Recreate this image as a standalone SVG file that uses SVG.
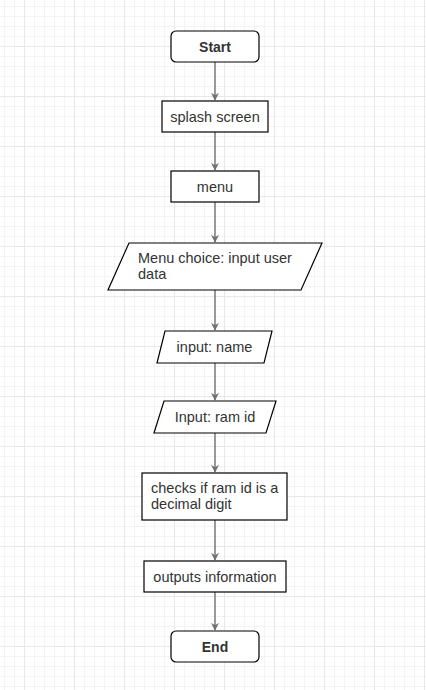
<svg xmlns="http://www.w3.org/2000/svg" width="426" height="690" viewBox="0 0 426 690">
<style>
.node{fill:#ffffff;stroke:#000000;stroke-width:1.2}
.t{font-family:"Liberation Sans",Arial,sans-serif;font-size:14.5px;fill:#333333}
.b{font-family:"Liberation Sans",Arial,sans-serif;font-size:14px;font-weight:bold;fill:#333333}
.e{stroke:#707070;stroke-width:1.4;fill:none;marker-end:url(#arr)}
</style>
<defs>
<pattern id="minor" patternUnits="userSpaceOnUse" x="4" y="6" width="10" height="10">
<path d="M0 0.5H10M0.5 0V10" stroke="#f3f3f3" stroke-width="1" fill="none"/>
</pattern>
<pattern id="major" patternUnits="userSpaceOnUse" x="24" y="46" width="50" height="50">
<path d="M0 0.5H50M0.5 0V50" stroke="#e8e8e8" stroke-width="1" fill="none"/>
</pattern>
<marker id="arr" viewBox="0 0 10 10" refX="9" refY="5" markerWidth="8" markerHeight="8" markerUnits="userSpaceOnUse" orient="auto">
<path d="M0 0L10 5L0 10L3 5Z" fill="#707070"/>
</marker>
</defs>
<rect width="426" height="690" fill="#ffffff"/>
<rect width="426" height="690" fill="url(#minor)"/>
<rect width="426" height="690" fill="url(#major)"/>
<g id="connectors">
<path class="e" d="M215 62V100"/>
<path class="e" d="M215 132V170"/>
<path class="e" d="M215 202V242"/>
<path class="e" d="M215 290V330"/>
<path class="e" d="M215 363V400"/>
<path class="e" d="M215 433V472"/>
<path class="e" d="M215 520V560"/>
<path class="e" d="M215 592V630"/>
</g>
<g id="start">
<rect class="node" x="171" y="31" width="88" height="31" rx="5"/>
<text class="b" x="215" y="51.5" text-anchor="middle">Start</text>
</g>
<g id="splash">
<rect class="node" x="162" y="101" width="106" height="31"/>
<text class="t" x="215" y="121.5" text-anchor="middle">splash screen</text>
</g>
<g id="menu">
<rect class="node" x="171" y="171" width="88" height="31"/>
<text class="t" x="215" y="191.5" text-anchor="middle">menu</text>
</g>
<g id="menuchoice">
<polygon class="node" points="129,243 322,243 301,290 108,290"/>
<text class="t" x="138" y="263">Menu choice: input user</text>
<text class="t" x="138" y="278.5">data</text>
</g>
<g id="inputname">
<polygon class="node" points="165,331 272,331 264,363 157,363"/>
<text class="t" x="214.5" y="351.5" text-anchor="middle">input: name</text>
</g>
<g id="inputramid">
<polygon class="node" points="164,401 276,401 266,433 154,433"/>
<text class="t" x="215" y="421.5" text-anchor="middle">Input: ram id</text>
</g>
<g id="checks">
<rect class="node" x="142" y="473" width="145" height="47"/>
<text class="t" x="151" y="493">checks if ram id is a</text>
<text class="t" x="151" y="508.5">decimal digit</text>
</g>
<g id="outputs">
<rect class="node" x="144" y="561" width="142" height="31"/>
<text class="t" x="215" y="581.5" text-anchor="middle">outputs information</text>
</g>
<g id="end">
<rect class="node" x="171" y="631" width="88" height="31" rx="5"/>
<text class="b" x="215" y="651.5" text-anchor="middle">End</text>
</g>
</svg>
